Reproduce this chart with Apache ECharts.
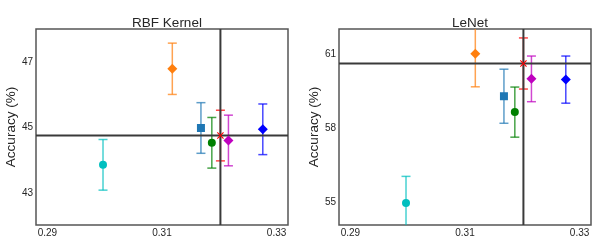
<!DOCTYPE html>
<html>
<head>
<meta charset="utf-8">
<script src="https://cdn.jsdelivr.net/npm/echarts@6/dist/echarts.min.js"></script>
<style>
  html, body { margin: 0; padding: 0; background: #fff; }
  #chart { width: 598px; height: 243px; }
</style>
</head>
<body>
<div id="chart"></div>
<script>
// ---- data ----
const methodX   = [0.2997, 0.3118, 0.3168, 0.3187, 0.3202, 0.3216, 0.3276];
const rbfAcc    = [43.87, 46.79, 44.99, 44.54, 44.76, 44.61, 44.95];
const rbfErr    = [0.77, 0.78, 0.77, 0.77, 0.77, 0.77, 0.77];
const lenetAcc  = [54.99, 61.00, 59.29, 58.65, 60.61, 59.99, 59.96];
const lenetErr  = [1.07, 1.33, 1.09, 1.01, 1.03, 0.92, 0.95];
const refX      = 0.3202;
const rbfRefY   = 44.76;
const lenetRefY = 60.61;
const xTicks     = [0.29, 0.31, 0.33];
const rbfYTicks  = [43, 45, 47];
const lenetYTicks = [55, 58, 61];
const panelTitles = ['RBF Kernel', 'LeNet'];

// ---- styles ----
const markerColors = ['#00bfbf', '#ff7f0e', '#1f77b4', '#008000', '#ff0000', '#bf00bf', '#0000ff'];
const DIAMOND = 'path://M0,-1L1,0L0,1L-1,0Z';
const XMARK = 'path://M-1,-0.78L-0.78,-1L0,-0.22L0.78,-1L1,-0.78L0.22,0L1,0.78L0.78,1L0,0.22L-0.78,1L-1,0.78L-0.22,0Z';
const markerShapes = ['circle', DIAMOND, 'rect', 'circle', XMARK, DIAMOND, DIAMOND];
const markerSizes  = [8, 10, 8, 8, 7, 10, 10];
const FONT = 'Liberation Sans, Arial, sans-serif';

function hexA(hex, a) {
  const n = parseInt(hex.slice(1), 16);
  return 'rgba(' + ((n >> 16) & 255) + ',' + ((n >> 8) & 255) + ',' + (n & 255) + ',' + a + ')';
}

const grids = [
  { left: 36, top: 29, width: 252, height: 196 },
  { left: 339, top: 29, width: 252, height: 196 }
];
const yRanges = [[42.04, 48.0], [54.1, 62.0]];
const yTickSets = [rbfYTicks, lenetYTicks];
const accSets = [rbfAcc, lenetAcc];
const errSets = [rbfErr, lenetErr];
const refYs = [rbfRefY, lenetRefY];

const option = {
  animation: false,
  backgroundColor: '#fff',
  textStyle: { fontFamily: FONT },
  title: panelTitles.map((t, i) => ({
    text: t,
    left: grids[i].left + grids[i].width / 2,
    textAlign: 'center',
    top: 11,
    textStyle: { fontFamily: FONT, fontSize: 13.5, fontWeight: 'normal', color: '#262626' }
  })),
  grid: grids.map(g => Object.assign({ show: true, borderColor: '#555', borderWidth: 1.5, backgroundColor: 'transparent' }, g)),
  xAxis: grids.map((g, i) => ({
    type: 'value', gridIndex: i, min: 0.288, max: 0.332,
    axisLine: { show: false }, axisTick: { show: false }, splitLine: { show: false },
    axisLabel: { customValues: xTicks, formatter: v => v.toFixed(2), margin: 3,
                 fontSize: 10, color: '#262626', fontFamily: FONT }
  })),
  yAxis: grids.map((g, i) => ({
    type: 'value', gridIndex: i, min: yRanges[i][0], max: yRanges[i][1],
    name: 'Accuracy (%)', nameLocation: 'middle', nameGap: 17,
    nameTextStyle: { fontSize: 13.5, color: '#262626', fontFamily: FONT },
    axisLine: { show: false }, axisTick: { show: false }, splitLine: { show: false },
    axisLabel: { customValues: yTickSets[i], formatter: v => String(v), margin: 3,
                 fontSize: 10, color: '#262626', fontFamily: FONT }
  })),
  series: []
};

for (let p = 0; p < 2; p++) {
  const acc = accSets[p], err = errSets[p];
  // error bars
  option.series.push({
    type: 'custom', xAxisIndex: p, yAxisIndex: p, z: 1, clip: true, silent: true,
    data: methodX.map((x, i) => [x, acc[i] - err[i], acc[i] + err[i], i]),
    renderItem: function (params, api) {
      const x = api.value(0), lo = api.value(1), hi = api.value(2), i = api.value(3);
      const a = api.coord([x, lo]), b = api.coord([x, hi]);
      const col = hexA(markerColors[i], 0.72);
      const st = { stroke: col, lineWidth: 1.5 };
      const cw = 4.5;
      return {
        type: 'group',
        children: [
          { type: 'line', shape: { x1: a[0], y1: a[1], x2: b[0], y2: b[1] }, style: st },
          { type: 'line', shape: { x1: a[0] - cw, y1: a[1], x2: a[0] + cw, y2: a[1] }, style: st },
          { type: 'line', shape: { x1: b[0] - cw, y1: b[1], x2: b[0] + cw, y2: b[1] }, style: st }
        ]
      };
    }
  });
  // reference lines
  option.series.push({
    type: 'custom', xAxisIndex: p, yAxisIndex: p, z: 2, clip: true, silent: true,
    data: [[refX, refYs[p]]],
    renderItem: function (params, api) {
      const c = api.coord([api.value(0), api.value(1)]);
      const cs = params.coordSys;
      const st = { stroke: '#3a3a3a', lineWidth: 2 };
      return {
        type: 'group',
        children: [
          { type: 'line', shape: { x1: c[0], y1: cs.y, x2: c[0], y2: cs.y + cs.height }, style: st },
          { type: 'line', shape: { x1: cs.x, y1: c[1], x2: cs.x + cs.width, y2: c[1] }, style: st }
        ]
      };
    }
  });
  // markers
  option.series.push({
    type: 'scatter', xAxisIndex: p, yAxisIndex: p, z: 3, silent: true,
    data: methodX.map((x, i) => ({
      value: [x, acc[i]],
      symbol: markerShapes[i],
      symbolSize: markerSizes[i],
      itemStyle: { color: markerColors[i], opacity: 1 }
    }))
  });
}

const chart = echarts.init(document.getElementById('chart'), null, { renderer: 'canvas' });
chart.setOption(option);
</script>
</body>
</html>
